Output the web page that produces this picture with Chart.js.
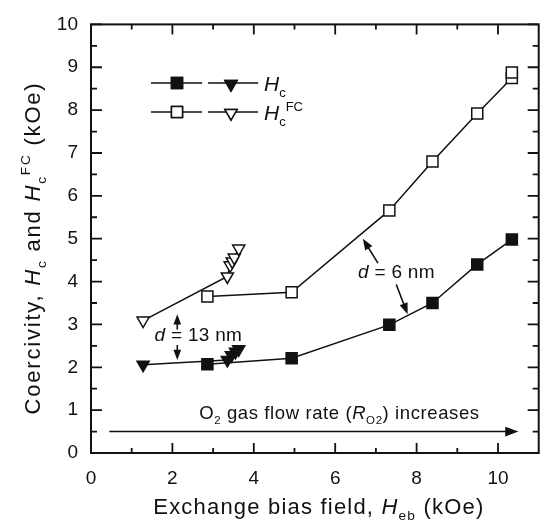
<!DOCTYPE html>
<html>
<head>
<meta charset="utf-8">
<script src="https://cdn.jsdelivr.net/npm/chart.js@4.4.1/dist/chart.umd.min.js"></script>
<style>
  html, body { margin: 0; padding: 0; background: #fff; }
  #wrap { width: 548px; height: 521px; position: relative; }
</style>
</head>
<body>
<div id="wrap"><canvas id="coercChart"></canvas></div>
<script>
// data (kOe)
const hcSqX = [2.86, 4.93, 7.33, 8.39, 9.49, 10.34];
const hcSqY = [2.07, 2.21, 2.99, 3.50, 4.40, 4.98];
const hcfcSqX = [2.86, 4.93, 7.33, 8.39, 9.49, 10.34, 10.34];
const hcfcSqY = [3.65, 3.75, 5.66, 6.80, 7.92, 8.75, 8.88];
const hcTriX = [1.28, 3.35, 3.45, 3.55, 3.63];
const hcTriY = [2.06, 2.17, 2.28, 2.36, 2.42];
const hcfcTriX = [1.28, 3.35, 3.42, 3.47, 3.52, 3.63];
const hcfcTriY = [3.09, 4.12, 4.38, 4.47, 4.56, 4.77];
const xTicks = [0, 2, 4, 6, 8, 10];
const yTicks = [0, 1, 2, 3, 4, 5, 6, 7, 8, 9, 10];

const FONT = '"Liberation Sans", Arial, Helvetica, sans-serif';
const INK = '#111';

function pts(xs, ys) {
    return xs.map((x, i) => ({ x: x, y: ys[i] }));
}

// draws text made of parts: {t, it, sub, sup}
function richText(ctx, parts, x, y, size, align, spacing) {
    ctx.letterSpacing = (spacing || 0) + 'px';
    let total = 0;
    parts.forEach(p => {
        const s = (p.sub || p.sup) ? size * 0.62 : size;
        ctx.font = (p.it ? 'italic ' : '') + s + 'px ' + FONT;
        p.w = ctx.measureText(p.t).width;
        p.s = s;
        total += p.w;
    });
    let cx = align === 'center' ? x - total / 2 : x;
    ctx.textBaseline = 'alphabetic';
    ctx.textAlign = 'left';
    parts.forEach(p => {
        ctx.font = (p.it ? 'italic ' : '') + p.s + 'px ' + FONT;
        let dy = 0;
        if (p.sub) dy = size * 0.28;
        if (p.sup) dy = -size * 0.45;
        ctx.fillText(p.t, cx, y + dy);
        cx += p.w;
    });
    ctx.letterSpacing = '0px';
}

function arrow(ctx, x1, y1, x2, y2, head) {
    const a = Math.atan2(y2 - y1, x2 - x1);
    ctx.beginPath();
    ctx.moveTo(x1, y1);
    ctx.lineTo(x2 - Math.cos(a) * head * 0.8, y2 - Math.sin(a) * head * 0.8);
    ctx.stroke();
    ctx.beginPath();
    ctx.moveTo(x2, y2);
    ctx.lineTo(x2 - Math.cos(a - 0.36) * head, y2 - Math.sin(a - 0.36) * head);
    ctx.lineTo(x2 - Math.cos(a + 0.36) * head, y2 - Math.sin(a + 0.36) * head);
    ctx.closePath();
    ctx.fill();
}

const decorations = {
    id: 'decorations',
    afterDraw(chart) {
        const ctx = chart.ctx;
        const xs = chart.scales.x, ys = chart.scales.y;
        const a = chart.chartArea;
        ctx.save();
        ctx.strokeStyle = INK;
        ctx.fillStyle = INK;

        // frame
        ctx.lineWidth = 2;
        ctx.strokeRect(a.left, a.top, a.right - a.left, a.bottom - a.top);

        // inward ticks
        ctx.lineWidth = 1.8;
        for (let v = 0; v <= 10.001; v += 0.5) {
            const py = ys.getPixelForValue(v);
            const len = Math.abs(v - Math.round(v)) < 0.01 ? 11 : 6;
            ctx.beginPath();
            ctx.moveTo(a.left, py); ctx.lineTo(a.left + len, py);
            ctx.moveTo(a.right, py); ctx.lineTo(a.right - len, py);
            ctx.stroke();
        }
        for (let v = 1; v <= 10; v += 1) {
            const px = xs.getPixelForValue(v);
            const len = v % 2 === 0 ? 10 : 5;
            ctx.beginPath();
            ctx.moveTo(px, a.bottom); ctx.lineTo(px, a.bottom - len);
            ctx.moveTo(px, a.top); ctx.lineTo(px, a.top + len);
            ctx.stroke();
        }

        // axis titles
        richText(ctx, [
            { t: 'Exchange bias field, ' }, { t: 'H', it: true }, { t: 'eb', sub: true }, { t: ' (kOe)' }
        ], (a.left + a.right) / 2 + 4, 514, 22, 'center', 1.2);

        ctx.save();
        ctx.translate(40, 248);
        ctx.rotate(-Math.PI / 2);
        richText(ctx, [
            { t: 'Coercivity, ' }, { t: 'H', it: true }, { t: 'c', sub: true }, { t: ' and ' },
            { t: 'H', it: true }, { t: 'c', sub: true }, { t: 'FC', sup: true }, { t: ' (kOe)' }
        ], 0, 0, 22, 'center', 1.8);
        ctx.restore();

        // legend
        ctx.lineWidth = 1.5;
        const rows = [
            { y: 83, fill: INK, label: [{ t: 'H', it: true }, { t: 'c', sub: true }] },
            { y: 112, fill: '#fff', label: [{ t: 'H', it: true }, { t: 'c', sub: true }, { t: 'FC', sup: true }] }
        ];
        rows.forEach(r => {
            ctx.beginPath();
            ctx.moveTo(151, r.y); ctx.lineTo(202, r.y);
            ctx.moveTo(208, r.y); ctx.lineTo(258, r.y);
            ctx.stroke();
            ctx.fillStyle = r.fill;
            Chart.helpers.drawPoint(ctx, { pointStyle: 'rect', radius: 7.8, rotation: 0, borderWidth: 1.5 }, 177, r.y);
            ctx.fill(); ctx.stroke();
            Chart.helpers.drawPoint(ctx, { pointStyle: 'triangle', radius: 7, rotation: 180, borderWidth: 1.5 }, 231, r.y + 1);
            ctx.fill(); ctx.stroke();
            ctx.fillStyle = INK;
            richText(ctx, r.label, 264, r.y + 8, 21, 'left');
        });

        // d = 13 nm annotation
        ctx.lineWidth = 1.6;
        const ax = xs.getPixelForValue(2.12);
        arrow(ctx, ax, ys.getPixelForValue(2.88), ax, ys.getPixelForValue(3.24), 11);
        arrow(ctx, ax, ys.getPixelForValue(2.66), ax, ys.getPixelForValue(2.17), 11);
        ctx.fillStyle = '#fff';
        ctx.fillRect(ax - 6, ys.getPixelForValue(2.8), 12, 12);
        ctx.fillStyle = INK;
        richText(ctx, [{ t: 'd', it: true }, { t: ' = 13 nm' }],
            xs.getPixelForValue(1.56), ys.getPixelForValue(2.77) + 7, 19, 'left', 0.3);

        // d = 6 nm annotation
        arrow(ctx, xs.getPixelForValue(7.05), ys.getPixelForValue(4.43),
            xs.getPixelForValue(6.68), ys.getPixelForValue(5.0), 12);
        arrow(ctx, xs.getPixelForValue(7.50), ys.getPixelForValue(3.93),
            xs.getPixelForValue(7.78), ys.getPixelForValue(3.24), 12);
        richText(ctx, [{ t: 'd', it: true }, { t: ' = 6 nm' }],
            xs.getPixelForValue(6.56), ys.getPixelForValue(4.24) + 7, 19, 'left', 0.3);

        // O2 flow arrow
        arrow(ctx, xs.getPixelForValue(0.45), ys.getPixelForValue(0.5),
            xs.getPixelForValue(10.5), ys.getPixelForValue(0.5), 14);
        richText(ctx, [
            { t: 'O' }, { t: '2', sub: true }, { t: ' gas flow rate (' }, { t: 'R', it: true },
            { t: 'O2', sub: true }, { t: ') increases' }
        ], xs.getPixelForValue(2.66), ys.getPixelForValue(0.96) + 7, 18.5, 'left', 0.6);

        ctx.restore();
    }
};

document.addEventListener('DOMContentLoaded', function() {
    const ctx = document.getElementById('coercChart').getContext('2d');
    const base = {
        showLine: true,
        borderColor: INK,
        borderWidth: 1.5,
        pointBorderColor: INK,
        pointBorderWidth: 1.5
    };
    new Chart(ctx, {
        type: 'scatter',
        data: {
            datasets: [
                Object.assign({}, base, {
                    label: 'Hc (d = 6 nm)', data: pts(hcSqX, hcSqY),
                    pointStyle: 'rect', pointRadius: 7.8, pointBackgroundColor: INK
                }),
                Object.assign({}, base, {
                    label: 'HcFC (d = 6 nm)', data: pts(hcfcSqX, hcfcSqY),
                    pointStyle: 'rect', pointRadius: 7.8, pointBackgroundColor: '#fff'
                }),
                Object.assign({}, base, {
                    label: 'Hc (d = 13 nm)', data: pts(hcTriX, hcTriY),
                    pointStyle: 'triangle', rotation: 180, pointRadius: 7, pointBackgroundColor: INK
                }),
                Object.assign({}, base, {
                    label: 'HcFC (d = 13 nm)', data: pts(hcfcTriX, hcfcTriY),
                    pointStyle: 'triangle', rotation: 180, pointRadius: 7, pointBackgroundColor: '#fff'
                })
            ]
        },
        options: {
            responsive: true,
            maintainAspectRatio: false,
            animation: false,
            layout: {
                padding: { top: 17, right: 5, left: 0, bottom: 0 }
            },
            plugins: {
                legend: { display: false },
                tooltip: { enabled: false }
            },
            scales: {
                x: {
                    type: 'linear',
                    min: 0,
                    max: 11,
                    afterBuildTicks: function(scale) {
                        scale.ticks = xTicks.map(v => ({ value: v }));
                    },
                    afterFit: function(scale) { scale.height = 68; },
                    grid: { display: false, drawTicks: false },
                    border: { display: false },
                    ticks: {
                        padding: 14,
                        color: INK,
                        maxRotation: 0,
                        font: { family: FONT, size: 19 }
                    }
                },
                y: {
                    type: 'linear',
                    min: 0,
                    max: 10,
                    afterBuildTicks: function(scale) {
                        scale.ticks = yTicks.map(v => ({ value: v }));
                    },
                    afterFit: function(scale) { scale.width = 91; },
                    grid: { display: false, drawTicks: false },
                    border: { display: false },
                    ticks: {
                        padding: 13,
                        color: INK,
                        font: { family: FONT, size: 19 }
                    }
                }
            }
        },
        plugins: [decorations]
    });
});
</script>
</body>
</html>
